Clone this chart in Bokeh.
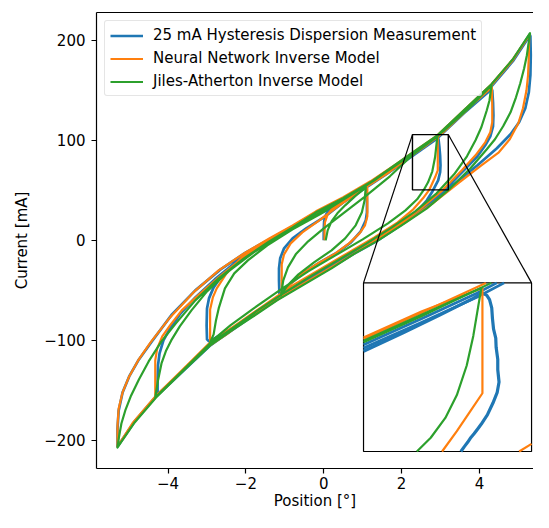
from bokeh.plotting import figure
from bokeh.models import Range1d, FixedTicker, LinearAxis
from bokeh.embed import file_html
from bokeh.resources import INLINE

# ---------------- data ----------------
x_ticks = [-4, -2, 0, 2, 4]
x_tick_labels = ["\u22124", "\u22122", "0", "2", "4"]
y_ticks = [-200, -100, 0, 100, 200]
y_tick_labels = ["\u2212200", "\u2212100", "0", "100", "200"]

series_names = ["25 mA Hysteresis Dispersion Measurement",
                "Neural Network Inverse Model",
                "Jiles-Atherton Inverse Model"]
series_colors = ["#1f77b4", "#ff7f0e", "#2ca02c"]

# measurement path (position deg, current mA)
meas_pts = [
    (0.00, 0), (0.00, 10), (0.01, 19), (0.06, 26), (0.20, 32), (0.45, 39), (0.75, 46), (1.08, 53),
    (1.10, 51), (1.11, 40), (1.11, 28), (1.08, 20), (0.95, 9), (0.70, -2), (0.35, -12), (-0.10, -22),
    (-0.50, -32), (-0.85, -43), (-1.05, -51), (-1.12, -55),
    (-1.14, -53), (-1.15, -40), (-1.15, -28), (-1.12, -18), (-1.02, -8), (-0.80, 2), (-0.45, 12),
    (0.00, 23), (0.50, 38), (1.20, 56), (1.85, 73), (2.40, 88), (2.92, 102),
    (2.95, 101), (2.97, 94), (2.99, 85), (3.00, 75), (2.99, 68), (2.94, 60), (2.86, 54), (2.78, 48),
    (2.65, 40), (2.45, 31), (2.15, 20), (1.70, 8), (1.10, -5), (0.40, -20), (-0.30, -36), (-1.00, -53),
    (-1.70, -71), (-2.30, -87), (-2.95, -101),
    (-3.00, -99), (-3.01, -85), (-3.00, -68), (-2.95, -58), (-2.83, -47), (-2.60, -34), (-2.25, -21),
    (-1.80, -9), (-1.20, 5), (-0.50, 20), (0.20, 32), (0.90, 48), (1.60, 66), (2.30, 85), (2.92, 102),
    (3.60, 127), (4.31, 151),
    (4.33, 150), (4.35, 138), (4.36, 125), (4.35, 114), (4.28, 104), (4.15, 95), (3.95, 84), (3.65, 72),
    (3.20, 54), (2.62, 34), (2.00, 17), (1.40, 2), (0.80, -12), (0.20, -27), (-0.50, -43), (-1.20, -59),
    (-1.85, -76), (-2.40, -91), (-2.92, -105), (-3.60, -130), (-4.30, -155),
    (-4.27, -154), (-4.27, -140), (-4.26, -125), (-4.22, -113), (-4.12, -100), (-3.95, -88), (-3.70, -74),
    (-3.30, -57), (-2.80, -39), (-2.20, -20), (-1.50, -3), (-0.80, 13), (-0.20, 27), (0.50, 41), (1.20, 57),
    (1.85, 74), (2.40, 89), (2.92, 103), (3.60, 128), (4.31, 154), (4.86, 179), (5.30, 205),
    (5.31, 204), (5.32, 185), (5.31, 165), (5.27, 148), (5.18, 132), (5.02, 118), (4.80, 106), (4.45, 92),
    (3.95, 75), (3.35, 56), (2.70, 35), (2.00, 16), (1.35, -1), (0.75, -14), (0.15, -28), (-0.55, -44),
    (-1.25, -60), (-1.90, -77), (-2.45, -92), (-2.95, -106), (-3.60, -130), (-4.31, -156), (-4.86, -181),
    (-5.30, -206),
    (-5.30, -188), (-5.27, -170), (-5.17, -152), (-5.00, -136), (-4.75, -119), (-4.40, -100), (-3.90, -74),
    (-3.30, -50), (-2.65, -29), (-2.00, -12), (-1.40, 1), (-0.80, 14), (-0.20, 28), (0.50, 42), (1.20, 58),
    (1.85, 75), (2.40, 90), (2.92, 104), (3.60, 129), (4.31, 155), (4.86, 180), (5.30, 206),
]

# neural network inverse model path
nn_pts = [
    (0.02, 0), (0.02, 10), (0.03, 18), (0.10, 26), (0.25, 33), (0.50, 40), (0.80, 47), (1.10, 53),
    (1.12, 52), (1.12, 38), (1.12, 24), (1.06, 15), (0.92, 7), (0.65, -3), (0.30, -13), (-0.15, -23),
    (-0.55, -33), (-0.90, -45), (-1.08, -55),
    (-1.08, -40), (-1.08, -24), (-1.02, -14), (-0.85, -3), (-0.55, 8), (-0.15, 19), (0.40, 35),
    (1.00, 51), (1.60, 66), (2.20, 83), (2.93, 104),
    (2.93, 87), (2.93, 70), (2.86, 63), (2.79, 57), (2.71, 50.4), (2.55, 42), (2.30, 31), (1.90, 18),
    (1.30, 3), (0.60, -13), (-0.10, -29), (-0.80, -45), (-1.50, -64), (-2.20, -83), (-2.92, -102),
    (-2.92, -85), (-2.92, -69), (-2.85, -57), (-2.75, -48), (-2.50, -33), (-2.10, -17), (-1.60, -4),
    (-1.00, 10), (-0.30, 25), (0.40, 38), (1.10, 54), (1.80, 72), (2.40, 89), (2.95, 104), (3.60, 128),
    (4.32, 153),
    (4.33, 135), (4.33, 118), (4.28, 108), (4.15, 98), (3.90, 85), (3.55, 70), (3.05, 50), (2.50, 32),
    (1.90, 15), (1.20, -3), (0.50, -20), (-0.20, -36), (-0.90, -52), (-1.60, -69), (-2.30, -87),
    (-2.95, -103), (-3.65, -130), (-4.33, -156),
    (-4.33, -138), (-4.33, -120), (-4.28, -108), (-4.15, -96), (-3.95, -85), (-3.65, -70), (-3.20, -54),
    (-2.70, -37), (-2.10, -18), (-1.40, 0), (-0.70, 15), (0.00, 30), (0.70, 45), (1.40, 62), (2.00, 78),
    (2.60, 94), (3.10, 109), (3.70, 131), (4.31, 155), (4.86, 180), (5.28, 205),
    (5.28, 204), (5.27, 185), (5.25, 165), (5.21, 150), (5.12, 132), (5.00, 117), (4.78, 101), (4.50, 88),
    (4.05, 75), (3.45, 57), (2.80, 37), (2.10, 18), (1.40, 1), (0.75, -14), (0.10, -29), (-0.60, -45),
    (-1.30, -62), (-1.95, -78), (-2.50, -94), (-3.00, -107), (-3.65, -131), (-4.35, -157), (-4.90, -182),
    (-5.30, -206),
    (-5.30, -185), (-5.27, -168), (-5.17, -152), (-5.00, -136), (-4.77, -120), (-4.45, -102), (-3.95, -77),
    (-3.35, -52), (-2.70, -30), (-2.05, -13), (-1.40, 2), (-0.80, 15), (-0.20, 29), (0.50, 43), (1.20, 59),
    (1.85, 76), (2.40, 91), (2.92, 105), (3.60, 130), (4.31, 156), (4.86, 181), (5.30, 206),
]

# Jiles-Atherton inverse model path
ja_pts = [
    (0.05, 0), (0.10, 10), (0.20, 19), (0.35, 27), (0.55, 35), (0.80, 44), (1.08, 53),
    (1.05, 40), (0.98, 28), (0.82, 15), (0.55, 2), (0.20, -10), (-0.25, -22), (-0.65, -34), (-0.95, -46),
    (-1.10, -55),
    (-1.04, -40), (-0.92, -27), (-0.72, -14), (-0.40, -1), (0.00, 12), (0.50, 27), (1.10, 45), (1.70, 64),
    (2.30, 86), (2.92, 104),
    (2.90, 97), (2.86, 83), (2.79, 69), (2.68, 58), (2.57, 50.4), (2.40, 41), (2.10, 30), (1.65, 17),
    (1.00, 1), (0.30, -15), (-0.40, -31), (-1.10, -49), (-1.80, -68), (-2.40, -85), (-2.92, -102),
    (-2.83, -94), (-2.77, -80), (-2.70, -68), (-2.54, -48), (-2.30, -33), (-1.95, -20), (-1.45, -5),
    (-0.80, 11), (-0.10, 26), (0.60, 43), (1.30, 60), (1.90, 77), (2.50, 93), (3.10, 110), (3.70, 131),
    (4.31, 155),
    (4.26, 140), (4.19, 130), (4.05, 113), (3.90, 100), (3.68, 84), (3.35, 66), (2.90, 47), (2.35, 29),
    (1.75, 13), (1.10, -3), (0.40, -19), (-0.30, -35), (-1.00, -52), (-1.70, -70), (-2.35, -88),
    (-2.95, -104), (-3.65, -131), (-4.33, -157),
    (-4.26, -140), (-4.17, -123), (-4.05, -110), (-3.92, -100), (-3.70, -86), (-3.40, -70), (-3.00, -51),
    (-2.45, -31), (-1.80, -12), (-1.10, 5), (-0.40, 21), (0.30, 36), (1.00, 53), (1.70, 71), (2.30, 87),
    (2.92, 104), (3.60, 130), (4.31, 156), (4.86, 181), (5.30, 207),
    (5.22, 185), (5.15, 172), (5.05, 157), (4.94, 143), (4.80, 128), (4.61, 114), (4.40, 101), (4.19, 91),
    (3.77, 72), (3.25, 52), (2.65, 32), (2.00, 15), (1.40, 0), (0.80, -13), (0.20, -28), (-0.50, -44),
    (-1.20, -60), (-1.85, -77), (-2.40, -91), (-2.92, -105), (-3.60, -130), (-4.31, -157), (-4.86, -182),
    (-5.30, -207),
    (-5.26, -196), (-5.20, -183), (-5.10, -170), (-4.95, -155), (-4.75, -139), (-4.50, -121), (-4.17, -101),
    (-3.80, -83), (-3.30, -60), (-2.70, -38), (-2.05, -18), (-1.40, -1), (-0.80, 13), (-0.20, 28),
    (0.50, 42), (1.20, 58), (1.85, 76), (2.40, 91), (2.92, 105), (3.60, 130), (4.31, 156), (4.86, 181),
    (5.30, 207),
]

# zoomed region shown in the inset (data limits of the inset)
zoom_x = [2.28, 3.20]
zoom_y = [50.4, 105.7]

# inset curves (in data units)
ins_meas_a = [(2.28, 83.3), (2.50, 89.4), (2.70, 95.2), (2.88, 100.6), (2.93, 102.4), (2.955, 101.6),
              (2.970, 100.2), (2.982, 97.5), (2.986, 94.0), (2.992, 90.5), (3.004, 87.6), (3.006, 84.6),
              (3.015, 80.6), (3.015, 77.2), (3.022, 73.2), (3.012, 69.8), (3.000, 68.0), (2.988, 66.2),
              (2.975, 64.6), (2.958, 62.4), (2.940, 60.8), (2.925, 59.4), (2.905, 57.8), (2.885, 56.2),
              (2.868, 55.0), (2.850, 53.4), (2.832, 52.0), (2.813, 50.4)]
ins_meas_b = [(2.28, 85.4), (2.60, 94.0), (2.90, 102.3), (3.01, 105.7)]
ins_meas_c = [(2.28, 84.3), (2.60, 92.8), (2.90, 101.0), (3.05, 105.7)]
ins_nn_a = [(2.28, 87.8), (2.60, 96.4), (2.931, 104.0), (2.931, 69.5), (2.863, 63.5), (2.791, 57.1),
            (2.710, 50.4)]
ins_nn_b = [(2.28, 87.3), (2.60, 96.0), (2.95, 105.7)]
ins_nn_c = [(3.132, 50.4), (3.20, 52.9)]
ins_ja_a = [(2.28, 86.7), (2.60, 95.3), (2.925, 104.0), (2.908, 98.0), (2.881, 88.3), (2.845, 78.6),
            (2.791, 68.9), (2.728, 61.4), (2.648, 54.9), (2.572, 50.4)]
ins_ja_b = [(2.28, 86.2), (2.60, 94.8), (2.98, 105.7)]

# ---------------- figure ----------------
FONT = "DejaVu Sans"
FS = "15px"
p = figure(width=533, height=512, output_backend="svg", toolbar_location=None,
           x_range=Range1d(-5.84, 5.39), y_range=Range1d(-228.0, 227.7),
           min_border_left=96, min_border_right=0, min_border_top=12, min_border_bottom=43)
p.outline_line_color = None
p.grid.visible = False
p.background_fill_color = "white"

p.xaxis.ticker = FixedTicker(ticks=x_ticks)
p.yaxis.ticker = FixedTicker(ticks=y_ticks)
p.xaxis.major_label_overrides = {t: s for t, s in zip(x_ticks, x_tick_labels)}
p.yaxis.major_label_overrides = {t: s for t, s in zip(y_ticks, y_tick_labels)}
p.xaxis.axis_label = "Position [\u00b0]"
p.yaxis.axis_label = "Current [mA]"
for ax in (p.xaxis[0], p.yaxis[0]):
    ax.axis_label_text_font = FONT
    ax.axis_label_text_font_size = FS
    ax.axis_label_text_font_style = "normal"
    ax.axis_label_text_color = "black"
    ax.major_label_text_font = FONT
    ax.major_label_text_font_size = FS
    ax.major_label_text_color = "black"
    ax.axis_line_color = "black"
    ax.axis_line_width = 1.2
    ax.major_tick_line_color = "black"
    ax.major_tick_line_width = 1.2
    ax.major_tick_out = 5
    ax.major_tick_in = 0
    ax.minor_tick_line_color = None
p.xaxis.major_label_standoff = 3
p.xaxis.axis_label_standoff = 0
p.yaxis.major_label_standoff = 6
p.yaxis.axis_label_standoff = 10

top_axis = LinearAxis(ticker=FixedTicker(ticks=[]), axis_line_color="black", axis_line_width=1.2,
                      major_tick_line_color=None, minor_tick_line_color=None,
                      major_label_text_font_size="0px")
p.add_layout(top_axis, "above")

# main curves
widths = [2.7, 2.2, 2.2]
for pts, name, col, w in zip([meas_pts, nn_pts, ja_pts], series_names, series_colors, widths):
    xs = [a for a, b in pts]
    ys = [b for a, b in pts]
    p.line(xs, ys, color=col, line_width=w, line_join="round", legend_label=name)

# inset placement (in main data units) and zoom markers
inset_box = dict(left=1.022, right=5.34, bottom=-211.0, top=-42.5)
p.quad(left=[zoom_x[0]], right=[zoom_x[1]], bottom=[zoom_y[0]], top=[zoom_y[1]],
       fill_alpha=0, line_color="black", line_width=1.4)
p.segment(x0=[zoom_x[0], zoom_x[1]], y0=[zoom_y[1], zoom_y[1]],
          x1=[inset_box["left"], inset_box["right"]], y1=[inset_box["top"], inset_box["top"]],
          line_color="black", line_width=1.2)
p.quad(left=[inset_box["left"]], right=[inset_box["right"]], bottom=[inset_box["bottom"]],
       top=[inset_box["top"]], fill_color="white", line_color="black", line_width=1.2)

ins = p.subplot(x_source=Range1d(zoom_x[0], zoom_x[1]), y_source=Range1d(zoom_y[0], zoom_y[1]),
                x_target=Range1d(inset_box["left"], inset_box["right"]),
                y_target=Range1d(inset_box["bottom"], inset_box["top"]))
inset_sets = [
    (ins_meas_b, series_colors[0], 2.8), (ins_meas_c, series_colors[0], 2.8), (ins_meas_a, series_colors[0], 3.2),
    (ins_nn_a, series_colors[1], 2.2), (ins_nn_b, series_colors[1], 2.2), (ins_nn_c, series_colors[1], 2.2),
    (ins_ja_a, series_colors[2], 2.2), (ins_ja_b, series_colors[2], 2.2),
]
for pts, col, w in inset_sets:
    ins.line([a for a, b in pts], [b for a, b in pts], color=col, line_width=w, line_join="round")

# legend
lg = p.legend[0]
lg.location = "top_left"
lg.margin = 8
lg.padding = 5
lg.spacing = 5
lg.glyph_width = 33
lg.glyph_height = 17
lg.label_height = 17
lg.label_standoff = 10
lg.label_text_font = FONT
lg.label_text_font_size = FS
lg.label_text_color = "black"
lg.border_line_color = "#cccccc"
lg.border_line_width = 1
lg.background_fill_alpha = 0.8
try:
    lg.border_radius = 3
except Exception:
    pass

open("out.html", "w").write(file_html(p, INLINE))
